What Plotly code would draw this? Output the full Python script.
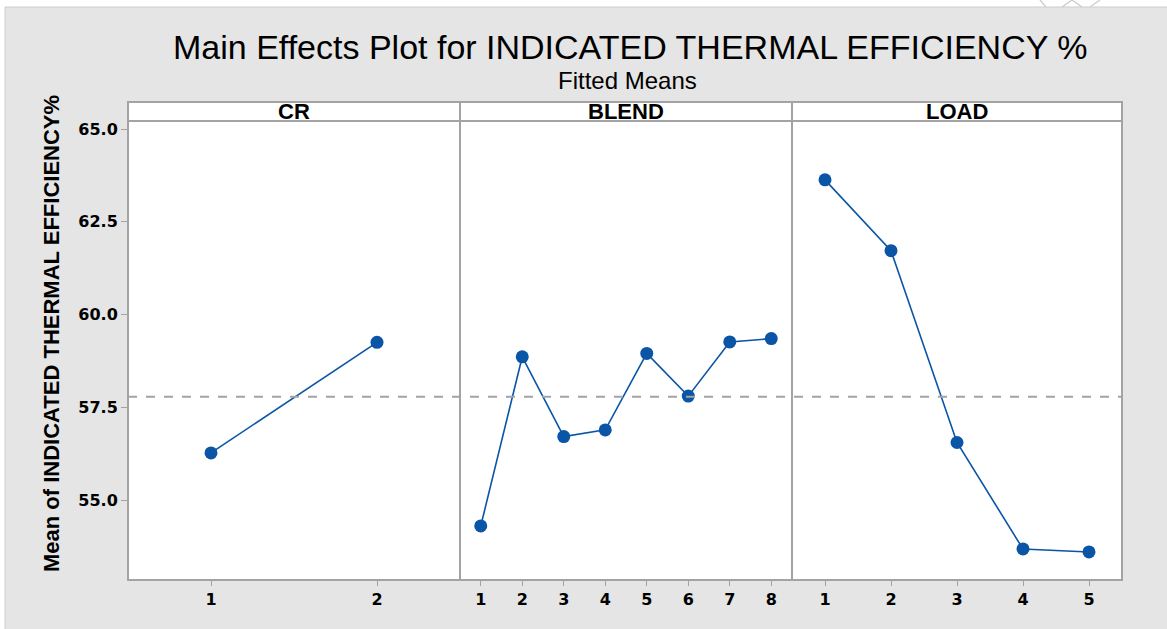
import plotly.graph_objects as go

# Fitted means per factor level
cr_levels = [1, 2]
cr_means = [56.27, 59.25]

blend_levels = [1, 2, 3, 4, 5, 6, 7, 8]
blend_means = [54.30, 58.86, 56.71, 56.89, 58.95, 57.80, 59.26, 59.35]

load_levels = [1, 2, 3, 4, 5]
load_means = [63.63, 61.72, 56.55, 53.68, 53.60]

grand_mean = 57.78

panel_names = ["CR", "BLEND", "LOAD"]
y_ticks = [55.0, 57.5, 60.0, 62.5, 65.0]

W, H = 1167, 629
BLUE = "#0a55a5"
GREY = "#a3a3a3"
BG = "#e5e5e5"


def px(x):
    return x / W


def py(y):
    return 1 - y / H


# panel geometry (pixels)
left, right = 128, 1122
cuts = [128, 460, 792, 1122]
plot_top, plot_bot = 121, 580
strip_top = 102

fig = go.Figure()

series = [
    (cr_levels, cr_means, "x", [0.5, 2.5]),
    (blend_levels, blend_means, "x2", [0.5, 8.5]),
    (load_levels, load_means, "x3", [0.5, 5.5]),
]

for lv, mv, ax, _ in series:
    fig.add_trace(go.Scatter(
        x=lv, y=mv, xaxis=ax, yaxis="y", mode="lines+markers",
        line=dict(color=BLUE, width=1.6),
        marker=dict(color=BLUE, size=13, symbol="circle"),
        showlegend=False, hoverinfo="skip",
    ))

tick_font = dict(family="DejaVu Sans", size=16, color="black", weight="bold")

layout_axes = {}
for i, (lv, mv, ax, rng) in enumerate(series):
    name = "xaxis" if i == 0 else f"xaxis{i + 1}"
    layout_axes[name] = dict(
        domain=[px(cuts[i]), px(cuts[i + 1])],
        range=rng, anchor="y",
        tickmode="array", tickvals=lv, ticktext=[str(v) for v in lv],
        ticks="outside", ticklen=5, tickcolor=GREY, tickwidth=1,
        showgrid=False, zeroline=False, showline=False,
        tickfont=tick_font, fixedrange=True,
    )

# y range derived from pixel geometry of ticks (65 at 129px, 55 at 500px)
ppu = (500 - 129) / 10.0
y_lo = 55 - (plot_bot - 500) / ppu
y_hi = 65 + (129 - plot_top) / ppu

fig.update_layout(
    width=W, height=H,
    margin=dict(l=0, r=0, t=0, b=0),
    paper_bgcolor="white", plot_bgcolor="white",
    yaxis=dict(
        domain=[py(plot_bot), py(plot_top)], range=[y_lo, y_hi],
        anchor="x", tickmode="array", tickvals=y_ticks,
        ticktext=[f"{v:.1f}" for v in y_ticks],
        ticks="outside", ticklen=6, tickcolor=GREY, tickwidth=1,
        showgrid=False, zeroline=False, showline=False,
        tickfont=dict(family="DejaVu Sans", size=16, color="black", weight="bold"),
        fixedrange=True,
    ),
    **layout_axes,
)

shapes = []
# grey page background
shapes.append(dict(type="rect", xref="paper", yref="paper", layer="below",
                   x0=px(5), x1=1.01, y0=-0.01, y1=py(7),
                   fillcolor=BG, line=dict(color="#cdcdcd", width=1)))
# white plotting region
shapes.append(dict(type="rect", xref="paper", yref="paper", layer="below",
                   x0=px(left), x1=px(right), y0=py(plot_bot), y1=py(strip_top),
                   fillcolor="white", line=dict(width=0)))
# grand mean reference line
shapes.append(dict(type="line", xref="paper", yref="y",
                   x0=px(left), x1=px(right), y0=grand_mean, y1=grand_mean,
                   line=dict(color=GREY, width=2, dash="dash")))
# panel frames and strip
frame = dict(color=GREY, width=2)
shapes.append(dict(type="rect", xref="paper", yref="paper",
                   x0=px(left), x1=px(right), y0=py(plot_bot), y1=py(strip_top),
                   line=frame))
shapes.append(dict(type="line", xref="paper", yref="paper",
                   x0=px(left), x1=px(right), y0=py(plot_top), y1=py(plot_top),
                   line=frame))
for c in cuts[1:-1]:
    shapes.append(dict(type="line", xref="paper", yref="paper",
                       x0=px(c), x1=px(c), y0=py(plot_bot), y1=py(strip_top),
                       line=frame))
# faint strokes along the top edge
for (xa, ya, xb, yb) in [(1040, 0, 1046, 7), (1062, 7, 1072, 0), (1072, 0, 1082, 7),
                         (1090, 7, 1100, 0)]:
    shapes.append(dict(type="line", xref="paper", yref="paper",
                       x0=px(xa), x1=px(xb), y0=py(ya), y1=py(yb),
                       line=dict(color="#cfcfcf", width=1.5)))

annotations = [
    dict(text="Main Effects Plot for INDICATED THERMAL EFFICIENCY %",
         x=px(630), y=py(47), xref="paper", yref="paper",
         showarrow=False, font=dict(family="Liberation Sans", size=34, color="black"),
         xanchor="center", yanchor="middle"),
    dict(text="Fitted Means", x=px(627), y=py(80), xref="paper", yref="paper",
         showarrow=False, font=dict(family="Liberation Sans", size=24, color="black"),
         xanchor="center", yanchor="middle"),
    dict(text="Mean of INDICATED THERMAL EFFICIENCY%", x=px(51), y=py(334),
         xref="paper", yref="paper", textangle=-90, showarrow=False,
         font=dict(family="Liberation Sans", size=22, color="black", weight="bold"),
         xanchor="center", yanchor="middle"),
]
for i, name in enumerate(panel_names):
    annotations.append(dict(
        text=name, x=px((cuts[i] + cuts[i + 1]) / 2), y=py(111),
        xref="paper", yref="paper", showarrow=False,
        font=dict(family="Liberation Sans", size=22, color="black", weight="bold"),
        xanchor="center", yanchor="middle"))

fig.update_layout(shapes=shapes, annotations=annotations)

fig.write_html("out.html")
